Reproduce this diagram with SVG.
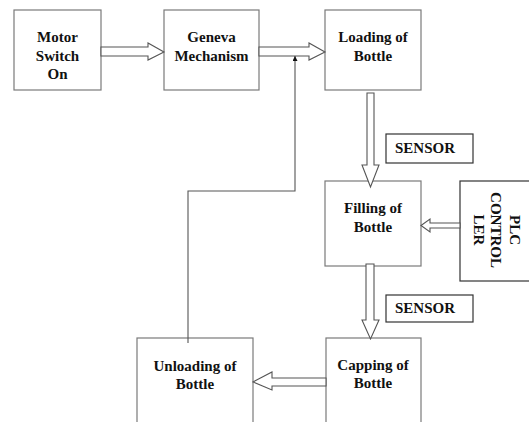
<svg xmlns="http://www.w3.org/2000/svg" width="529" height="422" viewBox="0 0 529 422">
<style>
.box{fill:#fff;stroke:#7a7a7a;stroke-width:1.2}
.dark{fill:#fff;stroke:#333;stroke-width:1.2}
.arr{fill:#fff;stroke:#555;stroke-width:1.1;stroke-linejoin:miter}
.t{font-family:"Liberation Serif","Times New Roman",serif;font-weight:bold;font-size:15px;fill:#111;text-anchor:middle}
.ts{font-family:"Liberation Serif","Times New Roman",serif;font-weight:bold;font-size:15px;fill:#111}
.line{fill:none;stroke:#555;stroke-width:1.1}
</style>
<defs>
<marker id="tri" viewBox="0 0 10 10" refX="10" refY="5" markerWidth="5" markerHeight="5" orient="auto" markerUnits="userSpaceOnUse">
<path d="M0,0 L10,5 L0,10 z" fill="#111"/>
</marker>
</defs>
<rect width="529" height="422" fill="#fff"/>
<g id="motor"><rect class="box" x="14" y="10" width="87" height="80"/><text class="t" x="57.5" y="42">Motor</text><text class="t" x="57.5" y="60.5">Switch</text><text class="t" x="57.5" y="79">On</text></g>
<g id="geneva"><rect class="box" x="164" y="10" width="95" height="80"/><text class="t" x="211.5" y="42">Geneva</text><text class="t" x="211.5" y="60.5">Mechanism</text></g>
<g id="loading"><rect class="box" x="325" y="10" width="96" height="80"/><text class="t" x="373" y="42">Loading of</text><text class="t" x="373" y="61">Bottle</text></g>
<g id="sensor1"><rect class="dark" x="386" y="134" width="87" height="29"/><text class="ts" x="395" y="153">SENSOR</text></g>
<g id="filling"><rect class="box" x="325" y="181" width="96" height="85"/><text class="t" x="373" y="213">Filling of</text><text class="t" x="373" y="232">Bottle</text></g>
<g id="plc"><rect class="dark" x="460" y="181" width="80" height="100"/><g transform="translate(497,230) rotate(90)"><text class="t" x="0" y="-13">PLC</text><text class="t" x="0" y="6">CONTROL</text><text class="t" x="0" y="23">LER</text></g></g>
<g id="sensor2"><rect class="dark" x="386" y="295" width="87" height="27"/><text class="ts" x="395" y="313">SENSOR</text></g>
<g id="capping"><rect class="box" x="326" y="338" width="95" height="95"/><text class="t" x="373" y="370">Capping of</text><text class="t" x="373" y="388">Bottle</text></g>
<g id="unloading"><rect class="box" x="137" y="338" width="116" height="95"/><text class="t" x="195" y="371">Unloading of</text><text class="t" x="195" y="389">Bottle</text></g>
<g id="connectors">
<polygon class="arr" points="101,47 148,47 148,43 164,52 148,60 148,56 101,56"/>
<polygon class="arr" points="259,47 309,47 309,43 325,52 309,60 309,56 259,56"/>
<polygon class="arr" points="367,93 374,93 374,165 379,165 370.5,187 362,165 367,165"/>
<polygon class="arr" points="366,264 374,264 374,320 379,320 370.5,339 362,320 366,320"/>
<polygon class="arr" points="460,223 430,223 430,219 421,225.5 430,232 430,228 460,228"/>
<polygon class="arr" points="326,378 272,378 272,372 253,382 272,390 272,386 326,386"/>
<polyline class="line" points="188,343 188,191 295,191 295,56" marker-end="url(#tri)"/>
</g>
</svg>
